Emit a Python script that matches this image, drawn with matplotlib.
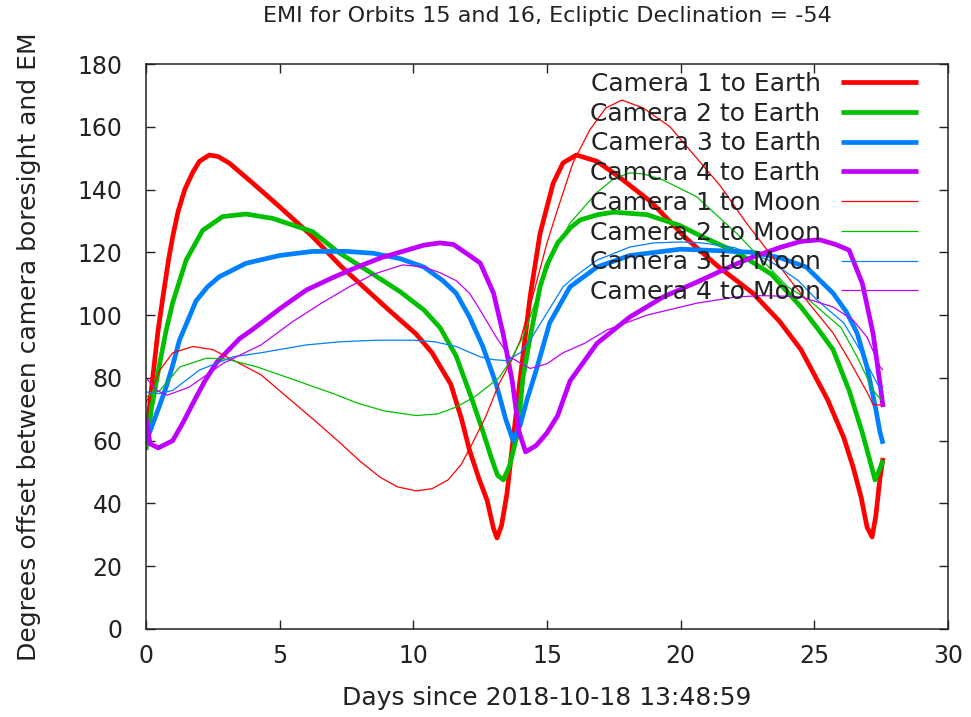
import matplotlib
matplotlib.use('Agg')
import matplotlib.pyplot as plt

# ---- data (days, degrees) ----
c1e_t = [0, 0.12, 0.25, 0.45, 0.62, 0.85, 1.0, 1.2, 1.45, 1.75, 2.0, 2.37, 2.7, 3.12, 4.0, 5.0, 6.23,
         7.3, 8.2, 9.1, 10.1, 10.7, 11.4, 11.8, 12.1, 12.45, 12.76, 13.0, 13.13, 13.3, 13.5, 13.7,
         14.0, 14.37, 14.74, 15.23, 15.6, 16.1, 16.87, 17.7, 18.9, 20.2, 21.4, 22.7, 23.7, 24.5,
         25.0, 25.5, 26.1, 26.45, 26.75, 26.97, 27.16, 27.3, 27.46, 27.57]
c1e_v = [61, 70, 80, 95, 105, 118, 125, 133, 140, 145.5, 149, 151, 150.5, 148.4, 142, 134.5, 125,
         115.5, 108.5, 101.5, 94, 88, 78, 67, 57, 48, 41, 32, 29, 33, 43, 58,
         80, 106, 126, 142, 148.5, 151, 149, 144, 136, 124.5, 115.5, 107, 98, 89,
         81, 73, 61, 51.6, 42, 32.5, 29.3, 36, 48.4, 54.5]

c2e_t = [0, 0.2, 0.5, 0.75, 1.0, 1.5, 2.12, 2.87, 3.74, 4.74, 6.23, 7.2, 8.5, 9.5, 10.4, 11.0,
         11.6, 12.2, 12.6, 12.9, 13.15, 13.37, 13.6, 13.9, 14.1, 14.37, 14.74, 15.0, 15.4, 15.9,
         16.24, 16.9, 17.5, 18.74, 19.98, 20.8, 22.1, 23.4, 24.5, 25.1, 25.7, 26.3, 26.8, 27.1,
         27.27, 27.45, 27.57]
c2e_v = [57, 70, 84, 95, 104, 117.5, 127, 131.4, 132.2, 130.8, 126.6, 120, 113, 107.5, 101.6, 96,
         87, 73, 63, 55, 49, 47.5, 52, 62.4, 80, 93, 109, 116, 123, 128,
         130.3, 132, 132.8, 132, 128.5, 125, 120, 113, 102.6, 96, 89, 76, 62.4, 53,
         47.5, 51, 53.8]

c3e_t = [0, 0.15, 0.5, 0.75, 1.0, 1.25, 1.6, 1.87, 2.3, 2.74, 3.74, 5.0, 6.23, 7.5, 8.5, 9.5,
         10.4, 11.1, 11.6, 12.1, 12.6, 13.1, 13.45, 13.73, 14.0, 14.25, 14.6, 15.1, 15.86, 16.87,
         18.1, 20.0, 21.5, 22.7, 23.7, 24.7, 25.7, 26.2, 26.6, 26.97, 27.3, 27.45, 27.57]
c3e_v = [60, 63, 71, 77, 84, 92, 99, 104.5, 109, 112.2, 116.5, 119, 120.3, 120.3, 119.7, 118,
         115.3, 111, 107, 99.4, 90, 78, 67, 60, 65, 73, 82.5, 97.5, 109, 115.3,
         119, 121, 120.5, 120, 118.3, 115.3, 107, 101, 94.3, 83.5, 70, 63, 59]

c4e_t = [0, 0.15, 0.46, 1.0, 1.4, 1.76, 2.2, 2.65, 3.5, 4.0, 5.0, 6.0, 7.0, 7.9, 8.8, 9.76, 10.4,
         11.0, 11.5, 12.1, 12.5, 13.0, 13.36, 13.7, 13.95, 14.2, 14.6, 15.0, 15.4, 15.86, 16.87,
         18.1, 19.35, 20.6, 22.0, 22.7, 23.7, 24.5, 25.2, 25.8, 26.3, 26.8, 27.2, 27.46, 27.57]
c4e_v = [67.5, 59, 57.7, 60, 66, 72, 79, 85, 92.5, 95.5, 102, 108, 112, 115.3, 118.3, 120.7, 122.3,
         123, 122.5, 119, 116.6, 107, 94, 79, 63, 56.4, 58.5, 62.5, 68, 79, 91,
         99.4, 105.8, 110.5, 116, 118.5, 121.5, 123.5, 124, 122.5, 120.7, 110, 94, 78, 70.7]

c1m_t = [0, 0.25, 0.52, 1.0, 1.76, 2.5, 3.25, 4.3, 5.4, 6.3, 7.3, 8.0, 8.75, 9.4, 10.1, 10.7, 11.3,
         11.8, 12.2, 12.7, 13.2, 13.7, 14.0, 14.5, 15.0, 15.37, 15.97, 16.6, 17.2, 17.8, 18.6,
         19.6, 20.5, 21.5, 22.4, 23.3, 24.2, 24.7, 25.7, 26.3, 27.0, 27.2, 27.5]
c1m_v = [72, 77, 82.5, 88, 90, 89, 85.7, 81, 73, 66.5, 59, 53.5, 48.4, 45.3, 44, 44.7, 47.5,
         52.5, 59, 67.5, 78, 86, 92, 107, 123, 133, 148.5, 159, 166, 168.5, 166,
         160, 151, 141, 130, 120, 110, 104.8, 94.3, 85.7, 75, 71.4, 71.4]

c2m_t = [0, 0.52, 1.27, 2.27, 3.0, 4.15, 5.0, 6.0, 7.0, 7.9, 8.9, 10.1, 10.9, 11.6, 12.3, 12.9,
         13.2, 13.6, 14.1, 14.6, 15.2, 15.86, 16.86, 17.5, 18.1, 18.6, 19.35, 20.6, 21.2, 22.1,
         23.0, 24.0, 24.8, 26.0, 26.6, 27.2, 27.5]
c2m_v = [74, 76, 83.5, 86.3, 86, 83.5, 81, 78, 75, 72, 69.5, 68, 68.5, 70.7, 74, 78,
         80, 85, 93, 105, 119, 129.3, 139, 143.5, 145.3, 145, 143, 137.7, 133, 126,
         118, 109, 104.8, 96, 86.7, 76, 73]

c3m_t = [0, 0.5, 1.0, 2.0, 3.25, 4.3, 6.0, 7.26, 8.6, 10.0, 10.8, 11.6, 12.5, 13.0, 13.5, 14.0,
         14.37, 15.0, 15.6, 16.0, 16.87, 18.1, 19.0, 20.0, 20.8, 22.0, 23.3, 24.4, 25.1, 26.1,
         26.7, 27.3, 27.5]
c3m_v = [75.5, 75, 76, 82.5, 86.7, 88, 90.5, 91.5, 92, 92, 91.5, 90, 86.7, 85.8, 85.5, 88,
         92, 100.7, 109, 112, 117.5, 121.7, 123, 123.3, 123, 121.5, 117.5, 111, 104.8, 97.5,
         89, 79, 76]

c4m_t = [0, 0.4, 0.8, 1.6, 2.9, 4.3, 5.5, 6.6, 7.6, 8.5, 9.6, 10.4, 11.0, 11.6, 12.1, 12.5, 13.1,
         13.6, 14.37, 15.0, 15.6, 16.4, 17.25, 18.74, 20.6, 22.1, 23.0, 24.0, 24.5, 25.7, 26.45,
         26.97, 27.46, 27.57]
c4m_v = [80, 76, 74.5, 77, 84.7, 90.5, 98, 104, 109, 113, 116, 115.3, 113.5, 111, 107, 101.6, 93,
         86.7, 83, 84.5, 88, 91, 95.3, 100, 103.8, 105.8, 106.2, 106, 105.8, 102.6, 98.4,
         93, 83.5, 82.5]

labels = ['Camera 1 to Earth', 'Camera 2 to Earth', 'Camera 3 to Earth', 'Camera 4 to Earth',
          'Camera 1 to Moon', 'Camera 2 to Moon', 'Camera 3 to Moon', 'Camera 4 to Moon']
colors = ['#ff0000', '#00c000', '#0080ff', '#c000ff']

series = [(c1e_t, c1e_v), (c2e_t, c2e_v), (c3e_t, c3e_v), (c4e_t, c4e_v),
          (c1m_t, c1m_v), (c2m_t, c2m_v), (c3m_t, c3m_v), (c4m_t, c4m_v)]

plt.rcParams['font.family'] = 'DejaVu Sans'
txt_col = '#222222'

fig = plt.figure(figsize=(9.71, 7.17), dpi=100)
ax = fig.add_axes([146/971, 1 - 629/717, 802/971, 565/717])

for i, (t, v) in enumerate(series):
    lw = 3.4 if i < 4 else 0.9
    ax.plot(t, v, color=colors[i % 4], lw=lw, label=labels[i],
            solid_joinstyle='round', solid_capstyle='butt')

ax.set_xlim(0, 30)
ax.set_ylim(0, 180)
ax.set_xticks(range(0, 31, 5))
ax.set_yticks(range(0, 181, 20))
ax.tick_params(direction='in', length=6.5, width=1.0, top=True, right=True,
               labelsize=17, colors=txt_col)
ax.tick_params(axis='x', pad=11)
ax.tick_params(axis='y', pad=17)
for s in ax.spines.values():
    s.set_linewidth(1.1)
    s.set_color(txt_col)

ax.set_xlabel('Days since 2018-10-18 13:48:59', fontsize=18, labelpad=13, color=txt_col)
ax.set_ylabel('Degrees offset between camera boresight and EM', fontsize=18, labelpad=26,
              color=txt_col)
ax.set_title('EMI for Orbits 15 and 16, Ecliptic Declination = -54', fontsize=16, pad=30,
             color=txt_col)

leg = ax.legend(loc='upper right', bbox_to_anchor=(0.9626, 0.986), markerfirst=False,
                frameon=False, fontsize=18, handlelength=3.1, handletextpad=0.8,
                labelspacing=0.23, borderpad=0, borderaxespad=0)
for txt in leg.get_texts():
    txt.set_color(txt_col)

fig.savefig('out.png', dpi=100)
